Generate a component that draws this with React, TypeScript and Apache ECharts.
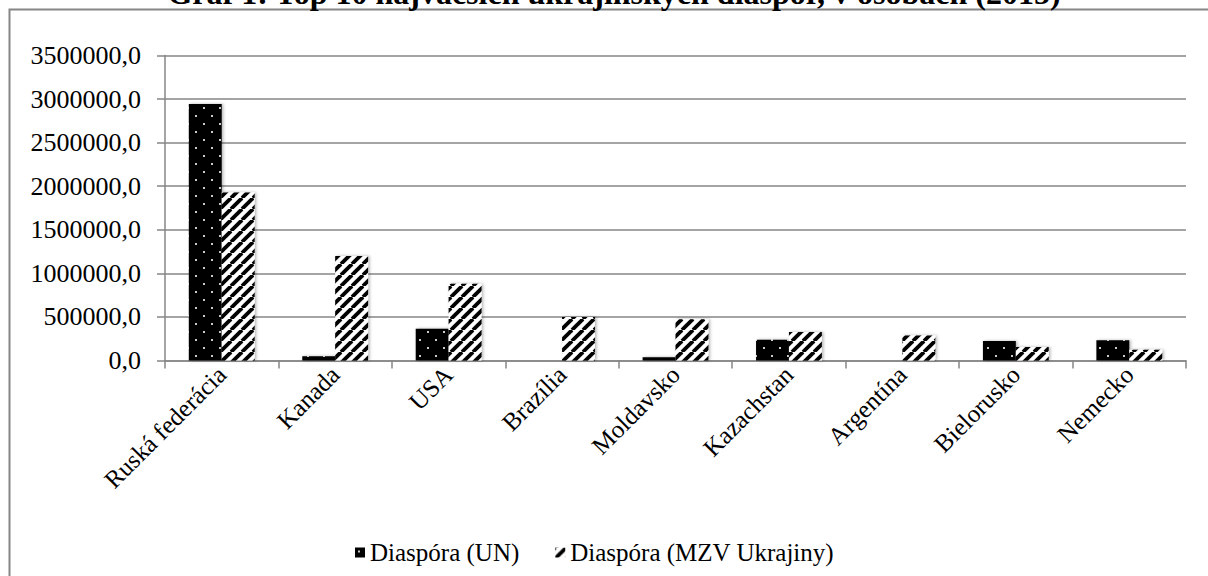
import React, { useEffect, useRef } from "react";
import * as echarts from "echarts";

const categories = [
  "Ruská federácia",
  "Kanada",
  "USA",
  "Brazília",
  "Moldavsko",
  "Kazachstan",
  "Argentína",
  "Bielorusko",
  "Nemecko",
];
const diasporaUN = [2943000, 50000, 364000, 0, 38000, 238000, 0, 223000, 231000];
const diasporaMZV = [1928000, 1200000, 881000, 500000, 473000, 327000, 288000, 154000, 123000];
const seriesNames = ["Diaspóra (UN)", "Diaspóra (MZV Ukrajiny)"];
const titleText = "Graf 1: Top 10 najväčších ukrajinských diaspór, v osobách (2015)";

const FONT = "Liberation Serif";
const GRAY = "#868686";

function dotPattern(): HTMLCanvasElement {
  const c = document.createElement("canvas");
  c.width = 16;
  c.height = 16;
  const ctx = c.getContext("2d")!;
  ctx.fillStyle = "#000";
  ctx.fillRect(0, 0, 16, 16);
  ctx.fillStyle = "#c8c8c8";
  ctx.fillRect(3, 3, 2, 2);
  ctx.fillRect(11, 11, 2, 2);
  return c;
}

function stripePattern(): HTMLCanvasElement {
  const s = 11;
  const c = document.createElement("canvas");
  c.width = s;
  c.height = s;
  const ctx = c.getContext("2d")!;
  ctx.fillStyle = "#fff";
  ctx.fillRect(0, 0, s, s);
  ctx.strokeStyle = "#000";
  ctx.lineWidth = 3.8;
  for (let k = -1; k <= 1; k++) {
    ctx.beginPath();
    ctx.moveTo(k * s, s);
    ctx.lineTo(k * s + s, 0);
    ctx.stroke();
  }
  return c;
}

export default function App() {
  const ref = useRef<HTMLDivElement>(null);
  useEffect(() => {
    if (!ref.current) return;
    const chart = echarts.init(ref.current, undefined, { renderer: "svg" });
    const dots = { image: dotPattern(), repeat: "repeat" } as any;
    const stripes = { image: stripePattern(), repeat: "repeat" } as any;
    const barShadow = {
      shadowColor: "rgba(0,0,0,0.3)",
      shadowBlur: 3,
      shadowOffsetX: 1.5,
      shadowOffsetY: 0,
    };
    chart.setOption({
      animation: false,
      backgroundColor: "#fff",
      textStyle: { fontFamily: FONT },
      graphic: [
        {
          type: "rect",
          shape: { x: 9.5, y: 9.5, width: 1300, height: 700 },
          style: { fill: "none", stroke: GRAY, lineWidth: 2 },
          silent: true,
        },
        {
          type: "text",
          x: 614,
          y: 9,
          style: {
            text: titleText,
            fontFamily: FONT,
            fontWeight: "bold",
            fontSize: 32,
            fill: "#000",
            textAlign: "center",
            textVerticalAlign: "bottom",
          },
        },
      ],
      grid: { left: 165, right: 22, top: 55.5, bottom: 215.5, containLabel: false },
      legend: {
        left: 350,
        top: 535,
        itemWidth: 10,
        itemHeight: 10,
        itemGap: 36,
        icon: "rect",
        formatter: (name: string) => "{t|" + name + "}",
        textStyle: {
          fontFamily: FONT,
          fontSize: 25,
          color: "#000",
          rich: {
            t: { fontFamily: FONT, fontSize: 25, color: "#000" },
          },
        },
        data: seriesNames,
      },
      xAxis: {
        type: "category",
        data: categories,
        axisLine: { lineStyle: { color: GRAY, width: 1.5 } },
        axisTick: { show: true, length: 8, lineStyle: { color: GRAY, width: 1.5 } },
        axisLabel: {
          interval: 0,
          rotate: 45,
          margin: 10,
          fontFamily: FONT,
          fontSize: 25,
          color: "#000",
        },
      },
      yAxis: {
        type: "value",
        min: 0,
        max: 3500000,
        interval: 500000,
        axisLine: { show: true, lineStyle: { color: GRAY, width: 1.5 } },
        axisTick: { show: true, length: 8, lineStyle: { color: GRAY, width: 1.5 } },
        splitLine: { lineStyle: { color: GRAY, width: 1.5 } },
        axisLabel: {
          margin: 24,
          fontFamily: FONT,
          fontSize: 26,
          color: "#000",
          formatter: (v: number) => v.toFixed(1).replace(".", ","),
        },
      },
      series: [
        {
          name: seriesNames[0],
          type: "bar",
          data: diasporaUN,
          barGap: "0%",
          barCategoryGap: "42%",
          itemStyle: { color: dots, ...barShadow },
        },
        {
          name: seriesNames[1],
          type: "bar",
          data: diasporaMZV,
          barGap: "0%",
          barCategoryGap: "42%",
          itemStyle: { color: stripes, ...barShadow },
        },
      ],
    });
    return () => chart.dispose();
  }, []);
  return (
    <div
      ref={ref}
      style={{ position: "absolute", left: 0, top: 0, width: 1208, height: 576 }}
    />
  );
}
